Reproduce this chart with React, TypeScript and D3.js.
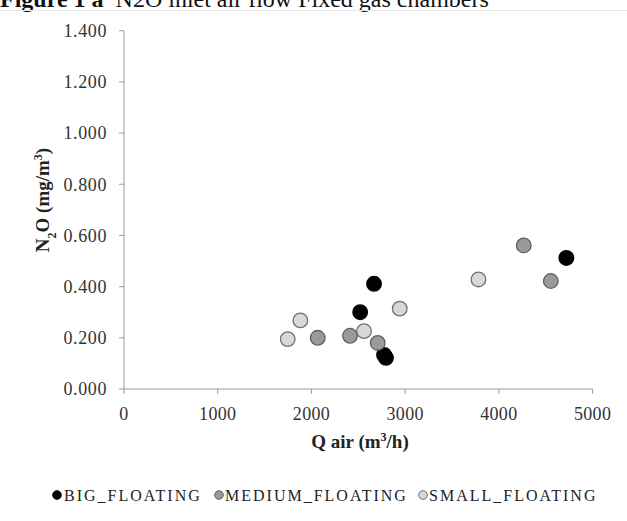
import React from "react";
import * as d3 from "d3";

// N2O vs inlet air flow, fixed gas chambers
const seriesNames = ["BIG_FLOATING", "MEDIUM_FLOATING", "SMALL_FLOATING"];

const bigQ = [2520, 2668, 2775, 2795, 4720];
const bigN2O = [0.300, 0.411, 0.133, 0.122, 0.512];

const mediumQ = [2067, 2412, 2707, 4265, 4554];
const mediumN2O = [0.200, 0.208, 0.180, 0.561, 0.422];

const smallQ = [1747, 1882, 2561, 2942, 3782];
const smallN2O = [0.195, 0.268, 0.226, 0.314, 0.428];

const xTicks = [0, 1000, 2000, 3000, 4000, 5000];
const yTicks = [0, 0.2, 0.4, 0.6, 0.8, 1.0, 1.2, 1.4];

const W = 627;
const H = 521;
const serif = "'Liberation Serif', 'Times New Roman', serif";

const colors = [
  { fill: "#000000", stroke: "#000000" },
  { fill: "#9a9a9a", stroke: "#5e5e5e" },
  { fill: "#d8d8d8", stroke: "#707070" },
];

export default function App() {
  // plot area
  const x = d3.scaleLinear().domain([0, 5000]).range([124, 592.6]);
  const y = d3.scaleLinear().domain([0, 1.4]).range([389, 30.7]);

  const series = [
    { name: seriesNames[0], xs: bigQ, ys: bigN2O },
    { name: seriesNames[1], xs: mediumQ, ys: mediumN2O },
    { name: seriesNames[2], xs: smallQ, ys: smallN2O },
  ];

  const axisColor = "#9a9a9a";
  const tickText = "#333";

  // legend positions (marker x, text x)
  const legendItems = [
    { mx: 57, tx: 64 },
    { mx: 219, tx: 225 },
    { mx: 423, tx: 429 },
  ];

  return (
    <div style={{ position: "absolute", left: 0, top: 0 }}>
      <svg width={W} height={H} style={{ display: "block", background: "#fff" }}>
        {/* cropped title */}
        <text x={0} y={7} fontFamily={serif} fontSize={24} fill="#111">
          <tspan fontWeight="bold">Figure 1 a</tspan>
          <tspan dx={12}>N2O inlet air flow Fixed gas chambers</tspan>
        </text>
        <line x1={0} x2={W} y1={10.5} y2={10.5} stroke="#e6e6e6" strokeWidth={1} />

        {/* y axis */}
        <line x1={x(0)} x2={x(0)} y1={y(1.4)} y2={y(0)} stroke={axisColor} />
        {yTicks.map((t) => (
          <g key={"y" + t}>
            <line x1={x(0) - 5} x2={x(0)} y1={y(t)} y2={y(t)} stroke={axisColor} />
            <text
              x={107}
              y={y(t)}
              dy="0.35em"
              textAnchor="end"
              fontFamily={serif}
              fontSize={18}
              letterSpacing={0.6}
              fill={tickText}
            >
              {d3.format(".3f")(t)}
            </text>
          </g>
        ))}

        {/* x axis */}
        <line x1={x(0)} x2={x(5000)} y1={y(0)} y2={y(0)} stroke={axisColor} />
        {xTicks.map((t) => (
          <g key={"x" + t}>
            <line x1={x(t)} x2={x(t)} y1={y(0)} y2={y(0) + 5} stroke={axisColor} />
            <text
              x={x(t)}
              y={420}
              textAnchor="middle"
              fontFamily={serif}
              fontSize={18}
              letterSpacing={0.3}
              fill={tickText}
            >
              {t}
            </text>
          </g>
        ))}

        {/* axis titles */}
        <text
          x={360}
          y={448}
          textAnchor="middle"
          fontFamily={serif}
          fontSize={19}
          fontWeight="bold"
          fill="#222"
        >
          Q air (m<tspan baselineShift="super" fontSize={12}>3</tspan>/h)
        </text>
        <text
          transform={`translate(49, 200) rotate(-90)`}
          textAnchor="middle"
          fontFamily={serif}
          fontSize={19}
          fontWeight="bold"
          fill="#222"
        >
          N<tspan baselineShift="sub" fontSize={12}>2</tspan>O (mg/m
          <tspan baselineShift="super" fontSize={12}>3</tspan>)
        </text>

        {/* points */}
        {series.map((s, i) =>
          s.xs.map((q, j) => (
            <circle
              key={s.name + j}
              cx={x(q)}
              cy={y(s.ys[j])}
              r={7.3}
              fill={colors[i].fill}
              stroke={colors[i].stroke}
              strokeWidth={1.3}
            />
          ))
        )}

        {/* legend */}
        {series.map((s, i) => (
          <g key={"lg" + s.name}>
            <circle
              cx={legendItems[i].mx}
              cy={495}
              r={4.3}
              fill={colors[i].fill}
              stroke={colors[i].stroke}
              strokeWidth={1}
            />
            <text
              x={legendItems[i].tx}
              y={501}
              fontFamily={serif}
              fontSize={16}
              letterSpacing={2}
              fill="#222"
            >
              {s.name}
            </text>
          </g>
        ))}
      </svg>
    </div>
  );
}
